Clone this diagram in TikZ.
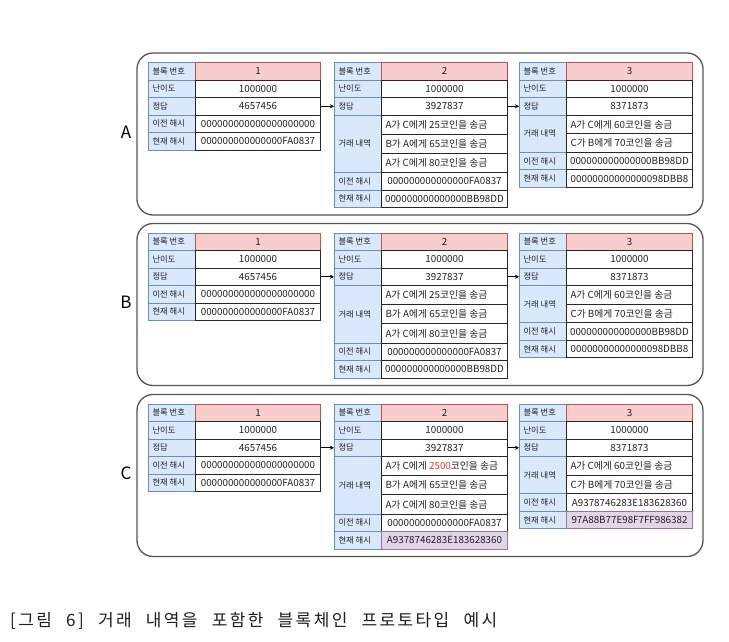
\documentclass[tikz,border=0pt]{standalone}
\usepackage{fontspec}
\setmainfont{Noto Sans CJK KR}
\newfontfamily\capfont[LetterSpace=14,WordSpace=2.3]{Noto Sans CJK KR}
\usetikzlibrary{arrows.meta}
\definecolor{lblfill}{HTML}{DAE8FC}
\definecolor{lblline}{HTML}{6C8EBF}
\definecolor{hdrfill}{HTML}{F8CECC}
\definecolor{hdrline}{HTML}{B85450}
\definecolor{purfill}{HTML}{E1D5E7}
\definecolor{purline}{HTML}{9673A6}
\definecolor{txtgray}{HTML}{222222}
\definecolor{framegray}{HTML}{555555}
\definecolor{redtxt}{HTML}{E5383B}
\tikzset{
 cellbase/.style={draw, line width=1pt, inner sep=0pt, anchor=north west, text=txtgray},
 lblcell/.style={cellbase, fill=lblfill, draw=lblline, font=\fontsize{8.3}{9}\selectfont},
 valcell/.style={cellbase, fill=white, draw=black!85, font=\fontsize{9.8}{11}\selectfont},
 hdrcell/.style={cellbase, fill=hdrfill, draw=hdrline, font=\fontsize{9.8}{11}\selectfont},
 purcell/.style={cellbase, fill=purfill, draw=purline, font=\fontsize{9.8}{11}\selectfont},
 panelframe/.style={draw=framegray, line width=1.3pt, rounded corners=16pt},
 linkarrow/.style={draw=black, line width=0.8pt, -{Stealth[length=4pt,width=4pt]}},
 panelletter/.style={font=\fontsize{17}{20}\selectfont, text=black},
}
\newcommand\mkcell[8]{\node[#1, minimum height=#6pt] (#2) at (#3,#4) {\makebox[#5pt][#7]{\ifx l#7\hspace*{4pt}\fi #8}};}
\newcommand\mkpanel[9]{%
\begin{scope}[yshift=-#2pt]
\draw[panelframe] (137,53) rectangle (703,215);
\node[panelletter] (#1let) at (126,132) {#3};
% block 1
\mkcell{lblcell}{#1al}{148}{62}{47}{17.5}{l}{블록 번호}
\mkcell{hdrcell}{#1av}{195}{62}{125}{17.5}{c}{1}
\mkcell{lblcell}{#1bl}{148}{79.5}{47}{17.5}{l}{난이도}
\mkcell{valcell}{#1bv}{195}{79.5}{125}{17.5}{c}{1000000}
\mkcell{lblcell}{#1cl}{148}{97}{47}{17.5}{l}{정답}
\mkcell{valcell}{#1cv}{195}{97}{125}{17.5}{c}{4657456}
\mkcell{lblcell}{#1dl}{148}{114.5}{47}{17.5}{l}{이전 해시}
\mkcell{valcell}{#1dv}{195}{114.5}{125}{17.5}{c}{000000000000000000000}
\mkcell{lblcell}{#1el}{148}{132}{47}{17.5}{l}{현재 해시}
\mkcell{valcell}{#1ev}{195}{132}{125}{17.5}{c}{000000000000000FA0837}
% block 2
\mkcell{lblcell}{#1fl}{334}{62}{47}{17.5}{l}{블록 번호}
\mkcell{hdrcell}{#1fv}{381}{62}{126}{17.5}{c}{2}
\mkcell{lblcell}{#1gl}{334}{79.5}{47}{17.5}{l}{난이도}
\mkcell{valcell}{#1gv}{381}{79.5}{126}{17.5}{c}{1000000}
\mkcell{lblcell}{#1hl}{334}{97}{47}{17.5}{l}{정답}
\mkcell{valcell}{#1hv}{381}{97}{126}{17.5}{c}{3927837}
\mkcell{lblcell}{#1il}{334}{114.5}{47}{57.6}{l}{거래 내역}
\mkcell{valcell}{#1iv}{381}{114.5}{126}{19.2}{l}{#4}
\mkcell{valcell}{#1jv}{381}{133.7}{126}{19.2}{l}{B가 A에게 65코인을 송금}
\mkcell{valcell}{#1kv}{381}{152.9}{126}{19.2}{l}{A가 C에게 80코인을 송금}
\mkcell{lblcell}{#1ll}{334}{172.1}{47}{17.5}{l}{이전 해시}
\mkcell{valcell}{#1lv}{381}{172.1}{126}{17.5}{c}{000000000000000FA0837}
\mkcell{lblcell}{#1ml}{334}{189.6}{47}{17.5}{l}{현재 해시}
\mkcell{#5}{#1mv}{381}{189.6}{126}{17.5}{c}{#6}
% block 3
\mkcell{lblcell}{#1nl}{519}{62}{47}{17.5}{l}{블록 번호}
\mkcell{hdrcell}{#1nv}{566}{62}{126}{17.5}{c}{3}
\mkcell{lblcell}{#1ol}{519}{79.5}{47}{17.5}{l}{난이도}
\mkcell{valcell}{#1ov}{566}{79.5}{126}{17.5}{c}{1000000}
\mkcell{lblcell}{#1pl}{519}{97}{47}{17.5}{l}{정답}
\mkcell{valcell}{#1pv}{566}{97}{126}{17.5}{c}{8371873}
\mkcell{lblcell}{#1ql}{519}{114.5}{47}{37.4}{l}{거래 내역}
\mkcell{valcell}{#1qv}{566}{114.5}{126}{18.7}{l}{A가 C에게 60코인을 송금}
\mkcell{valcell}{#1rv}{566}{133.2}{126}{18.7}{l}{C가 B에게 70코인을 송금}
\mkcell{lblcell}{#1sl}{519}{151.9}{47}{17.5}{l}{이전 해시}
\mkcell{valcell}{#1sv}{566}{151.9}{126}{17.5}{c}{#7}
\mkcell{lblcell}{#1tl}{519}{169.4}{47}{17.5}{l}{현재 해시}
\mkcell{#8}{#1tv}{566}{169.4}{126}{17.5}{c}{#9}
% links
\draw[linkarrow] (#1cv.east) -- (#1hl.west);
\draw[linkarrow] (#1hv.east) -- (#1pl.west);
\end{scope}}
\begin{document}
\begin{tikzpicture}[x=1pt,y=-1pt]
\useasboundingbox[fill=white] (0,0) rectangle (729,641);
\mkpanel{A}{0}{A}{A가 C에게 25코인을 송금}{valcell}{000000000000000BB98DD}{000000000000000BB98DD}{valcell}{00000000000000098DBB8}
\mkpanel{B}{170.5}{B}{A가 C에게 25코인을 송금}{valcell}{000000000000000BB98DD}{000000000000000BB98DD}{valcell}{00000000000000098DBB8}
\mkpanel{C}{341.5}{C}{A가 C에게 \textcolor{redtxt}{2500}코인을 송금}{purcell}{A9378746283E183628360}{A9378746283E183628360}{purcell}{97A88B77E98F7FF986382}
\node[anchor=west, inner sep=0pt, font=\capfont\fontsize{17}{19}\selectfont, text=black!88] (caption) at (10,621) {[그림 6] 거래 내역을 포함한 블록체인 프로토타입 예시};
\end{tikzpicture}
\end{document}
